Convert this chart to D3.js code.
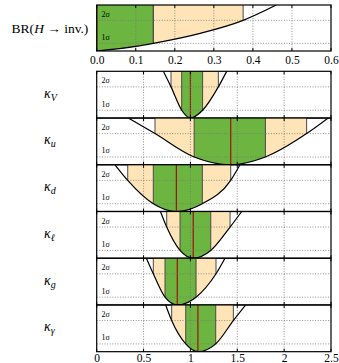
<!DOCTYPE html>
<html>
<head>
<meta charset="utf-8">
<script src="https://cdn.jsdelivr.net/npm/d3@7"></script>
<style>
  body { margin: 0; background: #fff; overflow: hidden; }
  svg { display: block; }
  text { font-family: "Liberation Serif", "DejaVu Serif", serif; fill: #000; }
</style>
</head>
<body>
<script>
// BR(H -> inv.) profile: points on the curve (BR, delta chi2)
var brX = [0, 0.1, 0.145, 0.265, 0.375, 0.46];
var brChi = [0, 0.6, 1, 2.3, 4, 6];
var brBest = 0;
var brSigma1 = [0, 0.145];
var brSigma2 = [0.145, 0.375];
var brTicks = [0, 0.1, 0.2, 0.3, 0.4, 0.5, 0.6];

// coupling modifiers
var kappaNames = ["V", "u", "d", "\u2113", "g", "\u03b3"];
var kappaBest = [1.00, 1.43, 0.85, 1.03, 0.86, 1.08];
var kappaLo1 = [0.907, 1.04, 0.604, 0.889, 0.729, 0.95];
var kappaHi1 = [1.13, 1.80, 1.127, 1.217, 1.06, 1.27];
var kappaLo2 = [0.793, 0.622, 0.331, 0.747, 0.604, 0.80];
var kappaHi2 = [1.298, 2.24, 1.43, 1.423, 1.273, 1.458];
var kappaLoTop = [0.711, 0.338, 0.195, 0.68, 0.53, 0.736];
var kappaHiTop = [1.387, 2.47, 1.529, 1.547, 1.369, 1.59];
var chiLevels = [6, 4, 1, 0, 1, 4, 6];
var kappaTicks = [0, 0.5, 1, 1.5, 2, 2.5];
var sigmaLevels = [1, 4];

var W = 339, H = 363;
var left = 96.7, right = 331;
var green = "#6cb540", orange = "#fee4b6";

var svg = d3.select("body").append("svg")
  .attr("width", W)
  .attr("height", H);

var defs = svg.append("defs");

var drawPanel = function (g, id, x, y, pts, best, s1, s2, ticks, labelPad) {
  var y0 = y.range()[0], y1 = y.range()[1];

  var area = d3.area()
    .x(function (d) { return x(d[0]); })
    .y0(y1)
    .y1(function (d) { return y(d[1]); })
    .curve(d3.curveMonotoneX);

  var line = d3.line()
    .x(function (d) { return x(d[0]); })
    .y(function (d) { return y(d[1]); })
    .curve(d3.curveMonotoneX);

  defs.append("clipPath").attr("id", "above-" + id)
    .append("path").attr("d", area(pts));
  defs.append("clipPath").attr("id", "box-" + id)
    .append("rect")
    .attr("x", left).attr("y", y1)
    .attr("width", right - left).attr("height", y0 - y1);

  var fills = g.append("g").attr("clip-path", "url(#above-" + id + ")");
  fills.append("rect")
    .attr("x", x(s2[0])).attr("y", y1)
    .attr("width", x(s2[1]) - x(s2[0])).attr("height", y0 - y1)
    .attr("fill", orange);
  fills.append("rect")
    .attr("x", x(s1[0])).attr("y", y1)
    .attr("width", x(s1[1]) - x(s1[0])).attr("height", y0 - y1)
    .attr("fill", green);
  [s2[0], s1[0], s1[1], s2[1]].forEach(function (v) {
    fills.append("line")
      .attr("x1", x(v)).attr("x2", x(v))
      .attr("y1", y1).attr("y2", y0)
      .attr("stroke", "#4a4a4a").attr("stroke-width", 1);
  });

  // grid
  ticks.slice(1, -1).forEach(function (t) {
    g.append("line")
      .attr("x1", x(t)).attr("x2", x(t))
      .attr("y1", y1).attr("y2", y0)
      .attr("stroke", "#777").attr("stroke-width", 0.8)
      .attr("stroke-dasharray", "1,1.6");
  });
  sigmaLevels.forEach(function (s) {
    g.append("line")
      .attr("x1", left).attr("x2", right)
      .attr("y1", y(s)).attr("y2", y(s))
      .attr("stroke", "#777").attr("stroke-width", 0.8)
      .attr("stroke-dasharray", "1,1.6");
  });

  fills.append("line")
    .attr("x1", x(best)).attr("x2", x(best))
    .attr("y1", y1).attr("y2", y0)
    .attr("stroke", "#a01010").attr("stroke-width", 1.2);

  g.append("path")
    .attr("d", line(pts))
    .attr("clip-path", "url(#box-" + id + ")")
    .attr("fill", "none")
    .attr("stroke", "#000")
    .attr("stroke-width", 1.2);

  g.append("text").attr("x", 101.5).attr("y", y(4) - 3.5)
    .attr("font-size", 8).text("2\u03c3");
  g.append("text").attr("x", 101.5).attr("y", y(1) - 3.5)
    .attr("font-size", 8).text("1\u03c3");

  // inward ticks top and bottom
  ticks.forEach(function (t) {
    g.append("line").attr("x1", x(t)).attr("x2", x(t))
      .attr("y1", y0).attr("y2", y0 - 3).attr("stroke", "#000");
    g.append("line").attr("x1", x(t)).attr("x2", x(t))
      .attr("y1", y1).attr("y2", y1 + 3).attr("stroke", "#000");
  });

  g.append("rect")
    .attr("x", left).attr("y", y1)
    .attr("width", right - left).attr("height", y0 - y1)
    .attr("fill", "none").attr("stroke", "#000").attr("stroke-width", 1.2);

  if (labelPad != null) {
    var fmt = ticks[1] < 0.2 ? d3.format(".1f") : function (v) { return String(v); };
    var ax = d3.axisBottom(x).tickValues(ticks).tickFormat(fmt).tickSize(0).tickPadding(labelPad);
    var a = g.append("g").attr("transform", "translate(0," + y0 + ")").call(ax);
    a.select(".domain").remove();
    a.attr("font-family", null);
    a.selectAll("text")
      .style("font-family", "'Liberation Serif', 'DejaVu Serif', serif")
      .style("font-size", "11.5px")
      .attr("fill", "#000");
  }
};

// top panel
var xBR = d3.scaleLinear().domain([0, 0.6]).range([left, right]);
var yBR = d3.scaleLinear().domain([0, 6]).range([51, 5]);
var gBR = svg.append("g");
drawPanel(gBR, "br", xBR, yBR, d3.zip(brX, brChi), brBest, brSigma1, brSigma2, brTicks, 5);

var brLabel = svg.append("text").attr("x", 50).attr("y", (5 + 51) / 2 + 4.5)
  .attr("text-anchor", "middle").attr("font-size", 13.5);
brLabel.append("tspan").text("BR(");
brLabel.append("tspan").style("font-style", "italic").text("H");
brLabel.append("tspan").text(" \u2192 inv.)");

// kappa panels
var xK = d3.scaleLinear().domain([0, 2.5]).range([left, right]);
var panelTop = 71.3, panelH = 46.73;

kappaNames.forEach(function (name, i) {
  var top = panelTop + i * panelH;
  var yK = d3.scaleLinear().domain([0, 6]).range([top + panelH, top]);
  var pts = d3.zip([kappaLoTop[i], kappaLo2[i], kappaLo1[i], kappaBest[i], kappaHi1[i], kappaHi2[i], kappaHiTop[i]], chiLevels);
  var g = svg.append("g");
  drawPanel(g, "k" + i, xK, yK, pts, kappaBest[i], [kappaLo1[i], kappaHi1[i]], [kappaLo2[i], kappaHi2[i]], kappaTicks, i === kappaNames.length - 1 ? 2 : null);

  var lab = svg.append("text").attr("x", 44).attr("y", top + panelH / 2 + 3)
    .attr("font-size", 14).style("font-style", "italic");
  lab.append("tspan").text("\u03ba");
  lab.append("tspan").attr("dy", 3).attr("font-size", 10).text(name);
});
</script>
</body>
</html>
